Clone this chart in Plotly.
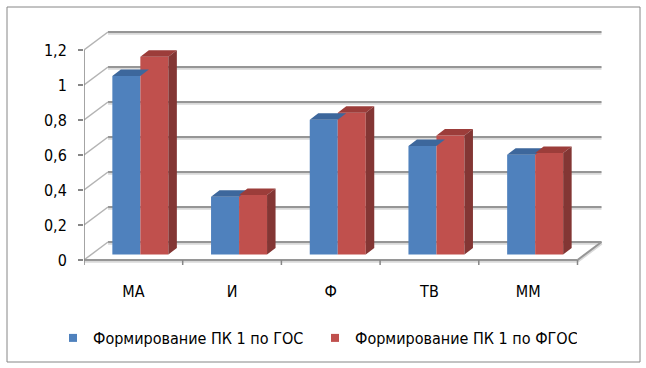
import plotly.graph_objects as go

# ---- data ----
categories = ["МА", "И", "Ф", "ТВ", "ММ"]
gos_values = [1.02, 0.33, 0.77, 0.62, 0.57]
fgos_values = [1.13, 0.34, 0.81, 0.68, 0.58]
series_names = ["Формирование ПК 1 по ГОС", "Формирование ПК 1 по ФГОС"]
y_ticks = [0, 0.2, 0.4, 0.6, 0.8, 1.0, 1.2]
y_tick_labels = ["0", "0,2", "0,4", "0,6", "0,8", "1", "1,2"]

# ---- geometry (pixel scale of the axes) ----
PX_X = 98.7   # pixels per category
PX_Y = 175.0  # pixels per unit of value
PLOT_L, PLOT_T, PLOT_W, PLOT_H = 84, 28, 522, 240
W, H = 646, 368

x_range = [-0.5, -0.5 + PLOT_W / PX_X]
y_range = [-8 / PX_Y, (PLOT_H - 8) / PX_Y]

WX, WY = 24 / PX_X, 18 / PX_Y      # back wall depth
FX, FY = 7 / PX_X, 5.5 / PX_Y      # bar front face offset
DX, DY = 8.5 / PX_X, 6.5 / PX_Y    # bar depth
BW = 28 / PX_X                     # bar width
SH = 1.3 / PX_Y                    # gridline shadow offset

BLUE, BLUE_TOP = "#4F81BD", "#3D679C"
RED, RED_TOP, RED_SIDE = "#C0504D", "#9C3D3A", "#833634"
GRID, GRID_LIGHT, DIAG = "#969696", "#D9D9D9", "#B4B4B4"
FONT = "DejaVu Sans Condensed, DejaVu Sans, sans-serif"

n = len(categories)
x_left, x_right = -0.5, n - 0.5
fig = go.Figure()
shapes = []

def seg(x0, y0, x1, y1, color, width):
    shapes.append(dict(type="line", xref="x", yref="y", x0=x0, y0=y0, x1=x1, y1=y1,
                       line=dict(color=color, width=width), layer="below"))

# back wall gridlines (with soft shadow) and left-wall diagonals
for v in y_ticks:
    seg(x_left + WX, v + WY - SH, x_right + WX, v + WY - SH, GRID_LIGHT, 3)
for v in y_ticks:
    seg(x_left + WX, v + WY, x_right + WX, v + WY, GRID, 2)
    seg(x_left, v, x_left + WX, v + WY, DIAG, 1.5)

# floor front and right edges
seg(x_left, -SH, x_right, -SH, GRID_LIGHT, 3)
seg(x_right, -SH, x_right + WX, WY - SH, GRID_LIGHT, 3)
seg(x_left, 0, x_right, 0, GRID, 2)
seg(x_right, 0, x_right + WX, WY, GRID, 2)

# left axis line and category boundary tick marks
seg(x_left, 0, x_left, y_ticks[-1], "#868686", 1.5)
for i in range(n + 1):
    seg(x_left + i, 0, x_left + i, -5 / PX_Y, "#868686", 1.5)

# outer chart border
shapes.append(dict(type="rect", xref="paper", yref="paper",
                   x0=(7 - PLOT_L) / PLOT_W, x1=(640 - PLOT_L) / PLOT_W,
                   y0=(PLOT_T + PLOT_H - 362) / PLOT_H, y1=(PLOT_T + PLOT_H - 7) / PLOT_H,
                   line=dict(color="#868686", width=1), layer="below"))

# bars
def add_series(values, centers, front, top, side=None):
    fig.add_trace(go.Bar(x=centers, y=values, base=FY, width=BW,
                         marker=dict(color=front, line=dict(width=0)),
                         hoverinfo="skip", showlegend=False))
    px, py = [], []
    for c, v in zip(centers, values):
        x0, x1, t = c - BW / 2, c + BW / 2, FY + v
        px += [x0, x1, x1 + DX, x0 + DX, x0, None]
        py += [t, t, t + DY, t + DY, t, None]
    fig.add_trace(go.Scatter(x=px, y=py, mode="lines", fill="toself", fillcolor=top,
                             line=dict(width=0, color=top), hoverinfo="skip", showlegend=False))
    if side:
        sx, sy = [], []
        for c, v in zip(centers, values):
            x1, t = c + BW / 2, FY + v
            sx += [x1, x1, x1 + DX, x1 + DX, x1, None]
            sy += [FY, t, t + DY, FY + DY, FY, None]
        fig.add_trace(go.Scatter(x=sx, y=sy, mode="lines", fill="toself", fillcolor=side,
                                 line=dict(width=0, color=side), hoverinfo="skip", showlegend=False))

idx = list(range(n))
add_series(gos_values, [i + FX - BW / 2 for i in idx], BLUE, BLUE_TOP)
add_series(fgos_values, [i + FX + BW / 2 for i in idx], RED, RED_TOP, RED_SIDE)

# legend entries
for name, col in zip(series_names, [BLUE, RED]):
    fig.add_trace(go.Scatter(x=[None], y=[None], mode="markers", name=name,
                             marker=dict(symbol="square", size=8, color=col, line=dict(width=0))))

fig.update_layout(
    width=W, height=H,
    margin=dict(l=PLOT_L, r=W - PLOT_L - PLOT_W, t=PLOT_T, b=H - PLOT_T - PLOT_H, pad=0),
    paper_bgcolor="white", plot_bgcolor="white",
    barmode="overlay",
    font=dict(family=FONT, size=15, color="black"),
    showlegend=True,
    legend=dict(orientation="h", x=(53 - PLOT_L) / PLOT_W, xanchor="left",
                y=(PLOT_T + PLOT_H - 338) / PLOT_H, yanchor="middle",
                font=dict(family=FONT, size=16, color="black"),
                entrywidth=217, entrywidthmode="pixels",
                itemsizing="trace", bgcolor="rgba(0,0,0,0)"),
    xaxis=dict(range=x_range, tickmode="array", tickvals=idx, ticktext=categories,
               ticks="", showgrid=False, zeroline=False, showline=False,
               tickfont=dict(size=16), ticklabelstandoff=12, fixedrange=True),
    yaxis=dict(range=y_range, tickmode="array", tickvals=y_ticks, ticktext=y_tick_labels,
               ticks="outside", ticklen=5, tickwidth=1.5, tickcolor="#868686",
               tickfont=dict(size=16),
               showgrid=False, zeroline=False, showline=False,
               ticklabelstandoff=8, fixedrange=True),
    shapes=shapes,
)

fig.write_html("out.html", config={"displayModeBar": False},
               post_script="document.body.style.margin='0';")
